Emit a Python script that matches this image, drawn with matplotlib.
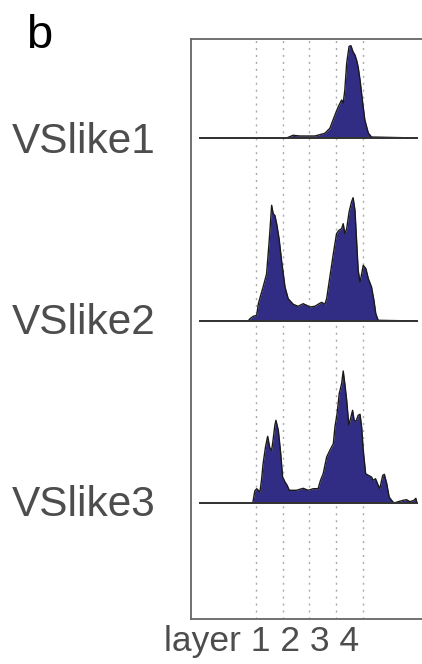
import matplotlib.pyplot as plt
import numpy as np

# depth along the cortex, layer boundaries at 0..4
boundaries = [0, 1, 2, 3, 4]
x_start = -2.10
x_end = 6.03

names = ["VSlike1", "VSlike2", "VSlike3"]
offsets = [481, 298, 116]

# VSlike1 profile (position, height)
x1 = [1.05, 1.15, 1.39, 1.65, 2.21, 2.58, 2.77, 2.96, 3.08, 3.21, 3.27, 3.33,
      3.40, 3.49, 3.56, 3.64, 3.71, 3.77, 3.83, 3.90, 4.00, 4.08, 4.21, 4.33]
y1 = [0, 0, 2.7, 2, 2, 4.7, 9.7, 23, 31, 38, 35, 48,
      75, 91.7, 92.3, 86, 83, 78, 71, 58, 35, 18, 5, 1]

# VSlike2 profile
x2 = [-0.29, -0.22, -0.10, 0.03, 0.09, 0.18, 0.27, 0.40, 0.50, 0.59,
      0.65, 0.71, 0.78, 0.87, 0.96, 1.09, 1.21, 1.40, 1.58, 1.77,
      1.90, 2.02, 2.21, 2.33, 2.46, 2.58, 2.65, 2.77, 2.90, 3.02,
      3.11, 3.21, 3.27, 3.33, 3.40, 3.49, 3.58, 3.64, 3.71, 3.77,
      3.83, 3.90, 3.96, 4.02, 4.12, 4.21, 4.33, 4.42, 4.49, 4.58]
y2 = [0, 2.3, 4.7, 5.7, 17, 25.7, 34, 47, 80.7, 115.7,
      107, 105.7, 97, 82, 60.7, 34, 22.3, 16.7, 14.7, 17.3,
      15.7, 14, 14.7, 16.7, 18.7, 16.7, 22.3, 44, 67.3, 87.3,
      90.7, 92.3, 97.3, 87.3, 92.3, 109, 119, 123.3, 110.7, 80.7,
      50.7, 39, 47, 55.7, 52.3, 42.3, 34, 20.7, 7.3, 0.7]

# VSlike3 profile
x3 = [-0.12, -0.10, -0.04, 0.03, 0.15, 0.21, 0.27, 0.36, 0.44, 0.52,
      0.59, 0.65, 0.71, 0.75, 0.84, 0.93, 1.00, 1.09, 1.17, 1.25,
      1.52, 1.77, 1.96, 2.15, 2.33, 2.42, 2.52, 2.65, 2.77, 2.90,
      2.96, 3.04, 3.12, 3.21, 3.27, 3.33, 3.40, 3.48, 3.56, 3.62,
      3.68, 3.75, 3.83, 3.90, 3.96, 4.02, 4.11, 4.21, 4.33, 4.39,
      4.48, 4.58, 4.64, 4.75, 4.81, 4.90, 4.99, 5.08, 5.17, 5.33,
      5.52, 5.64, 5.77, 5.92, 5.99]
y3 = [0, 2.7, 12, 14.3, 11, 22.7, 39.3, 56, 66.7, 55.3,
      52.7, 64.3, 77.7, 82.7, 72.7, 49.3, 26, 21, 17.7, 12.7,
      12.7, 14.7, 12.7, 14.3, 14.3, 22.7, 29.3, 46, 52.7, 59.3,
      76, 89.3, 109.3, 119.3, 132, 119.3, 102.7, 77.7, 86, 92.7,
      82.7, 81.7, 87.7, 88.7, 76, 52.7, 29.3, 27.7, 26, 22.7,
      24.3, 17.7, 14.3, 27.7, 28.7, 19.3, 6, 2.7, 0, 1.3,
      2.7, 3.3, 1.3, 2.7, 4.7]

profiles = [(x1, y1), (x2, y2), (x3, y3)]

fill_color = "#312c84"
text_color = "#4d4d4d"

fig = plt.figure(figsize=(4.22, 6.64), dpi=100)
ax = fig.add_axes([191 / 422, 45 / 664, 231 / 422, 580 / 664])
ax.set_xlim(-2.43, 6.22)
ax.set_ylim(0, 580)

for b in boundaries:
    ax.axvline(b, color="#aaaaaa", lw=1.0, linestyle=(0, (1.5, 3.5)), zorder=1)

for (xs, ys), off in zip(profiles, offsets):
    xs = np.array([x_start] + list(xs) + [x_end])
    ys = np.array([0] + list(ys) + [0]) + off
    ax.fill_between(xs, off, ys, color=fill_color, lw=0, zorder=2)
    ax.plot(xs, ys, color="#1a1a1a", lw=1.0, zorder=3)
    ax.plot([x_start, x_end], [off, off], color="#333333", lw=1.4, zorder=3)

for s in ["left", "top", "bottom"]:
    ax.spines[s].set_color("#666666")
    ax.spines[s].set_linewidth(1.3)
ax.spines["right"].set_visible(False)
ax.set_xticks([])
ax.set_yticks([])

font = ["Liberation Sans", "DejaVu Sans"]
label_y = [(664 - 153) / 664, (664 - 334.5) / 664, (664 - 516) / 664]
for name, yy in zip(names, label_y):
    fig.text(12 / 422, yy, name, fontsize=30.5, color=text_color, family=font,
             va="baseline", ha="left")

fig.text(26 / 422, (664 - 48) / 664, "b", fontsize=34, color="black", family=font,
         va="baseline", ha="left")
fig.text(164.5 / 422, (664 - 651) / 664, "layer 1 2 3 4", fontsize=25.5,
         color=text_color, family=font, va="baseline", ha="left")

fig.savefig("out.png", dpi=100)
